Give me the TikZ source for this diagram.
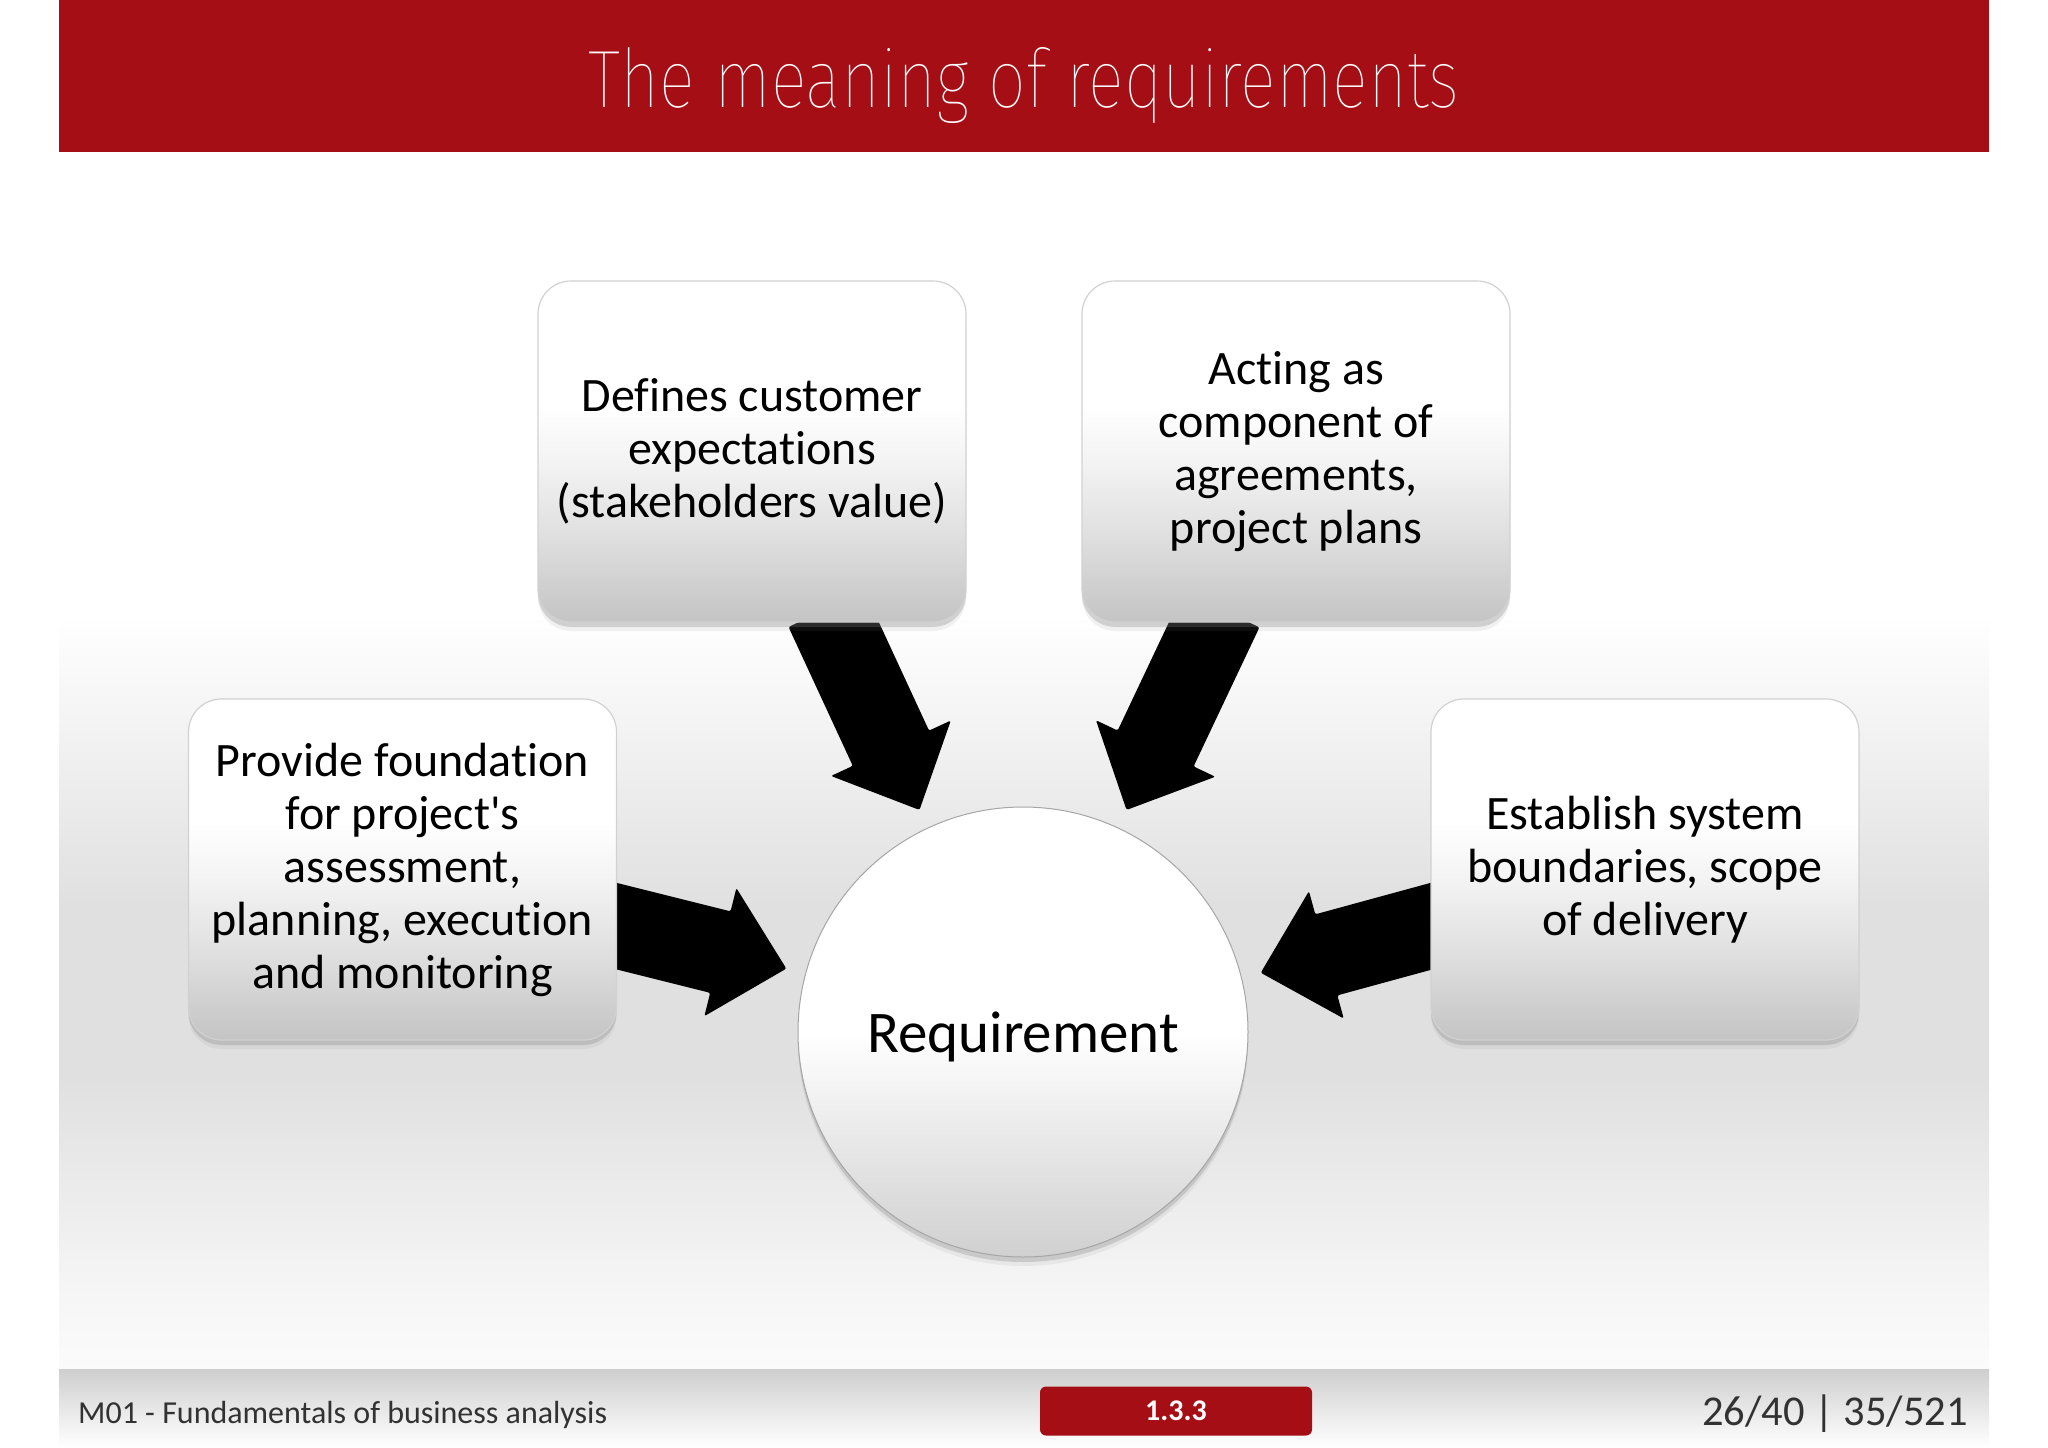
\documentclass[tikz,border=0pt]{standalone}
\usepackage{fontspec}
\setmainfont{Carlito}[Ligatures={TeXOff,CommonOff}]
\newfontfamily\titlefont{Fira Sans Thin}
\usepackage{graphicx}
\usetikzlibrary{calc,shadows}

\definecolor{hdrred}{RGB}{166,14,21}
\definecolor{bgmid}{RGB}{224,224,224}
\definecolor{bglow}{RGB}{246,246,246}
\definecolor{bgbot}{RGB}{251,251,251}
\definecolor{boxbot}{RGB}{196,196,196}
\definecolor{boxmid}{RGB}{222,222,222}
\definecolor{boxhi}{RGB}{244,244,244}
\definecolor{circbot}{RGB}{208,208,208}
\definecolor{circmid}{RGB}{236,236,236}
\definecolor{foottop}{RGB}{206,206,206}
\definecolor{footmid}{RGB}{236,236,236}
\definecolor{foottxt}{RGB}{50,50,50}

\pgfdeclareverticalshading{bgshade}{100bp}{color(0bp)=(bgbot); color(25bp)=(bgbot); color(28bp)=(bglow); color(37bp)=(bgmid); color(44bp)=(bgmid); color(56bp)=(white); color(100bp)=(white)}
\pgfdeclareverticalshading{boxshade}{100bp}{color(0bp)=(boxbot); color(25bp)=(boxbot); color(37bp)=(boxmid); color(49bp)=(boxhi); color(57bp)=(white); color(100bp)=(white)}
\pgfdeclareverticalshading{circshade}{100bp}{color(0bp)=(circbot); color(25bp)=(circbot); color(40bp)=(circmid); color(50bp)=(white); color(100bp)=(white)}
\pgfdeclareverticalshading{footshade}{100bp}{color(0bp)=(white); color(25bp)=(white); color(45bp)=(footmid); color(75bp)=(foottop); color(100bp)=(foottop)}

\tikzset{
  infobox/.style={rectangle, rounded corners=33pt, minimum width=428pt, minimum height=341pt,
    inner sep=0pt, shading=boxshade, draw=black!18, line width=1.2pt, align=center,
    font=\fontsize{48}{53}\selectfont, text=black,
    drop shadow={shadow xshift=0pt, shadow yshift=-5pt, opacity=.28},
    drop shadow={shadow xshift=0pt, shadow yshift=-9pt, opacity=.10}},
  reqcircle/.style={circle, minimum size=450pt, inner sep=0pt, outer sep=0pt,
    shading=circshade, draw=black!35, line width=1pt,
    drop shadow={shadow xshift=0pt, shadow yshift=-5pt, opacity=.28},
    drop shadow={shadow xshift=0pt, shadow yshift=-9pt, opacity=.10}},
  reqtext/.style={inner sep=0pt, font=\fontsize{59}{66}\selectfont, text=black},
  arrowfill/.style={fill=black, rounded corners=2pt},
  badge/.style={rectangle, rounded corners=6pt, fill=hdrred, minimum width=272pt,
    minimum height=49pt, inner sep=0pt, text=white, font=\fontsize{30}{34}\selectfont\bfseries},
}

\newcommand\blockarrow[2]{%
  \coordinate (bs) at ($#1!-14pt!#2$);
  \coordinate (bh) at ($#2!68pt!#1$);
  \fill[arrowfill] ($(bs)!42pt!90:#2$) -- ($(bh)!42pt!90:#2$) -- ($(bh)!66pt!90:#2$) -- #2
     -- ($(bh)!66pt!-90:#2$) -- ($(bh)!42pt!-90:#2$) -- ($(bs)!42pt!-90:#2$) -- cycle;
}

\begin{document}
\begin{tikzpicture}[x=1pt,y=-1pt]
\useasboundingbox (0,0) rectangle (2048,1448);
\fill[white] (0,0) rectangle (2048,1448);
% slide background
\shade[shading=bgshade] (59,152) rectangle (1989,1369);
\fill[hdrred] (59,0) rectangle (1989,152);
\shade[shading=footshade] (59,1369) rectangle (1989,1448);

% title
\node[anchor=base, inner sep=0pt, text=white] (title) at (1024,107)
  {\resizebox{871pt}{60pt}{\titlefont The meaning of requirements}};

\coordinate (reqc) at (1023,1032);
\node[circle, minimum size=450pt, inner sep=0pt, outer sep=0pt] (reqg) at (reqc) {};

% arrow geometry
\coordinate (s1) at (832.5,622);
\coordinate (t1) at ($(reqg.center)!245pt!(reqg.115)$);
\coordinate (s2) at (1215.5,622);
\coordinate (t2) at ($(reqg.center)!245pt!(reqg.65)$);
\coordinate (s3) at (616,926);
\coordinate (t3) at ($(reqg.center)!245pt!(reqg.165.3)$);
\coordinate (s4) at (1432,926);
\coordinate (t4) at ($(reqg.center)!245pt!(reqg.14.7)$);

\blockarrow{(s1)}{(t1)}
\blockarrow{(s2)}{(t2)}
\blockarrow{(s3)}{(t3)}
\blockarrow{(s4)}{(t4)}

% boxes
\node[infobox] (b1) at (752,451.5) {Defines customer\\expectations\\(stakeholders value)};
\node[infobox] (b2) at (1296,451.5) {Acting as\\component of\\agreements,\\project plans};
\node[infobox] (b3) at (402.5,869.5) {Provide foundation\\for project's\\assessment,\\planning, execution\\and monitoring};
\node[infobox] (b4) at (1645,869.5) {Establish system\\boundaries, scope\\of delivery};

\node[reqcircle] (req) at (reqc) {};
\node[reqtext, anchor=base] (reqlabel) at ($(req.center)+(0,20)$) {Requirement};

% footer
\node[anchor=base west, inner sep=0pt, text=foottxt, font=\fontsize{32}{36}\selectfont] (foot1) at (78,1423) {M01 - Fundamentals of business analysis};
\node[badge] (sec) at (1176,1411) {1.3.3};
\node[anchor=base east, inner sep=0pt, text=foottxt, font=\fontsize{42.5}{46}\selectfont] (foot2) at (1968,1425) {26/40 | 35/521};
\end{tikzpicture}
\end{document}
